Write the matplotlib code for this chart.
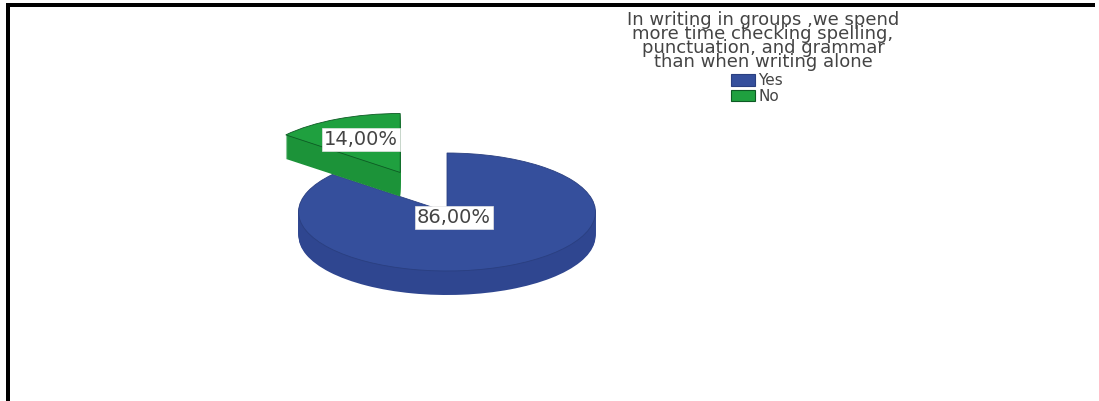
import numpy as np
import matplotlib
matplotlib.use('Agg')
import matplotlib.pyplot as plt
from matplotlib.patches import Patch, Rectangle

W, H = 1099, 401

categories = ['Yes', 'No']
values = [86.0, 14.0]
title_text = ('In writing in groups ,we spend\n'
              'more time checking spelling,\n'
              'punctuation, and grammar\n'
              'than when writing alone')

top_colors = ['#354f9c', '#1fa03f']
side_colors = ['#2f4690', '#1c9339']
edge_colors = ['#2a3f80', '#0d5a24']
text_color = '#444444'

# pie centre and radii in pixels, the pie is squashed by the axes limits
cx, cy, rx, ry = 447, 212, 148.5, 59
depth = 24 / ry
explode = [0, 0.74]

fig = plt.figure(figsize=(W / 100, H / 100), dpi=100)
ax = fig.add_axes([0, 0, 1, 1])

# stack of darker pies makes the side wall
for d in np.linspace(depth, 0, 25)[:-1]:
    ax.pie(values, explode=explode, startangle=90, counterclock=False,
           center=(0, -d), colors=side_colors, wedgeprops={'linewidth': 0})

wedges, _ = ax.pie(values, explode=explode, startangle=90, counterclock=False,
                   colors=top_colors, wedgeprops={'linewidth': 0.6})
for w, e in zip(wedges, edge_colors):
    w.set_edgecolor(e)

# draw order: blue first, green in front of it
for p in ax.patches:
    p.set_zorder(3 if p.get_facecolor()[1] > 0.5 else 2)

ax.set_aspect('auto')
ax.set_xlim(-cx / rx, (W - cx) / rx)
ax.set_ylim(-(H - cy) / ry, cy / ry)
ax.axis('off')

# value labels in white boxes
label_r = [0.11, 0.62]
for w, v, r in zip(wedges, values, label_r):
    ang = np.radians((w.theta1 + w.theta2) / 2)
    x = w.center[0] + r * np.cos(ang)
    y = w.center[1] + r * np.sin(ang)
    ax.text(x, y, f'{v:.2f}%'.replace('.', ','), ha='center', va='center',
            fontsize=14, color=text_color, zorder=5,
            bbox={'boxstyle': 'square,pad=0.1', 'fc': 'white', 'ec': '#e4e4e4', 'lw': 0.5})

fig.text(763 / W, 1 - 41 / H, title_text, ha='center', va='center', multialignment='center',
         fontsize=13, linespacing=0.7, color=text_color)

handles = [Patch(fc=c, ec=e, lw=0.8) for c, e in zip(top_colors, edge_colors)]
fig.legend(handles, categories, loc='upper left', bbox_to_anchor=(731 / W, 1 - 73 / H),
           frameon=False, fontsize=11, labelcolor=text_color, borderpad=0, borderaxespad=0,
           handlelength=1.55, handleheight=0.8, handletextpad=0.25, labelspacing=0.05)

# black frame of the screenshot
for x, y, w, h in [(6, 3, 1089, 4), (6, 3, 4, 398)]:
    fig.add_artist(Rectangle((x / W, 1 - (y + h) / H), w / W, h / H,
                             transform=fig.transFigure, fc='black', ec='none'))

fig.savefig('out.png', dpi=100)
